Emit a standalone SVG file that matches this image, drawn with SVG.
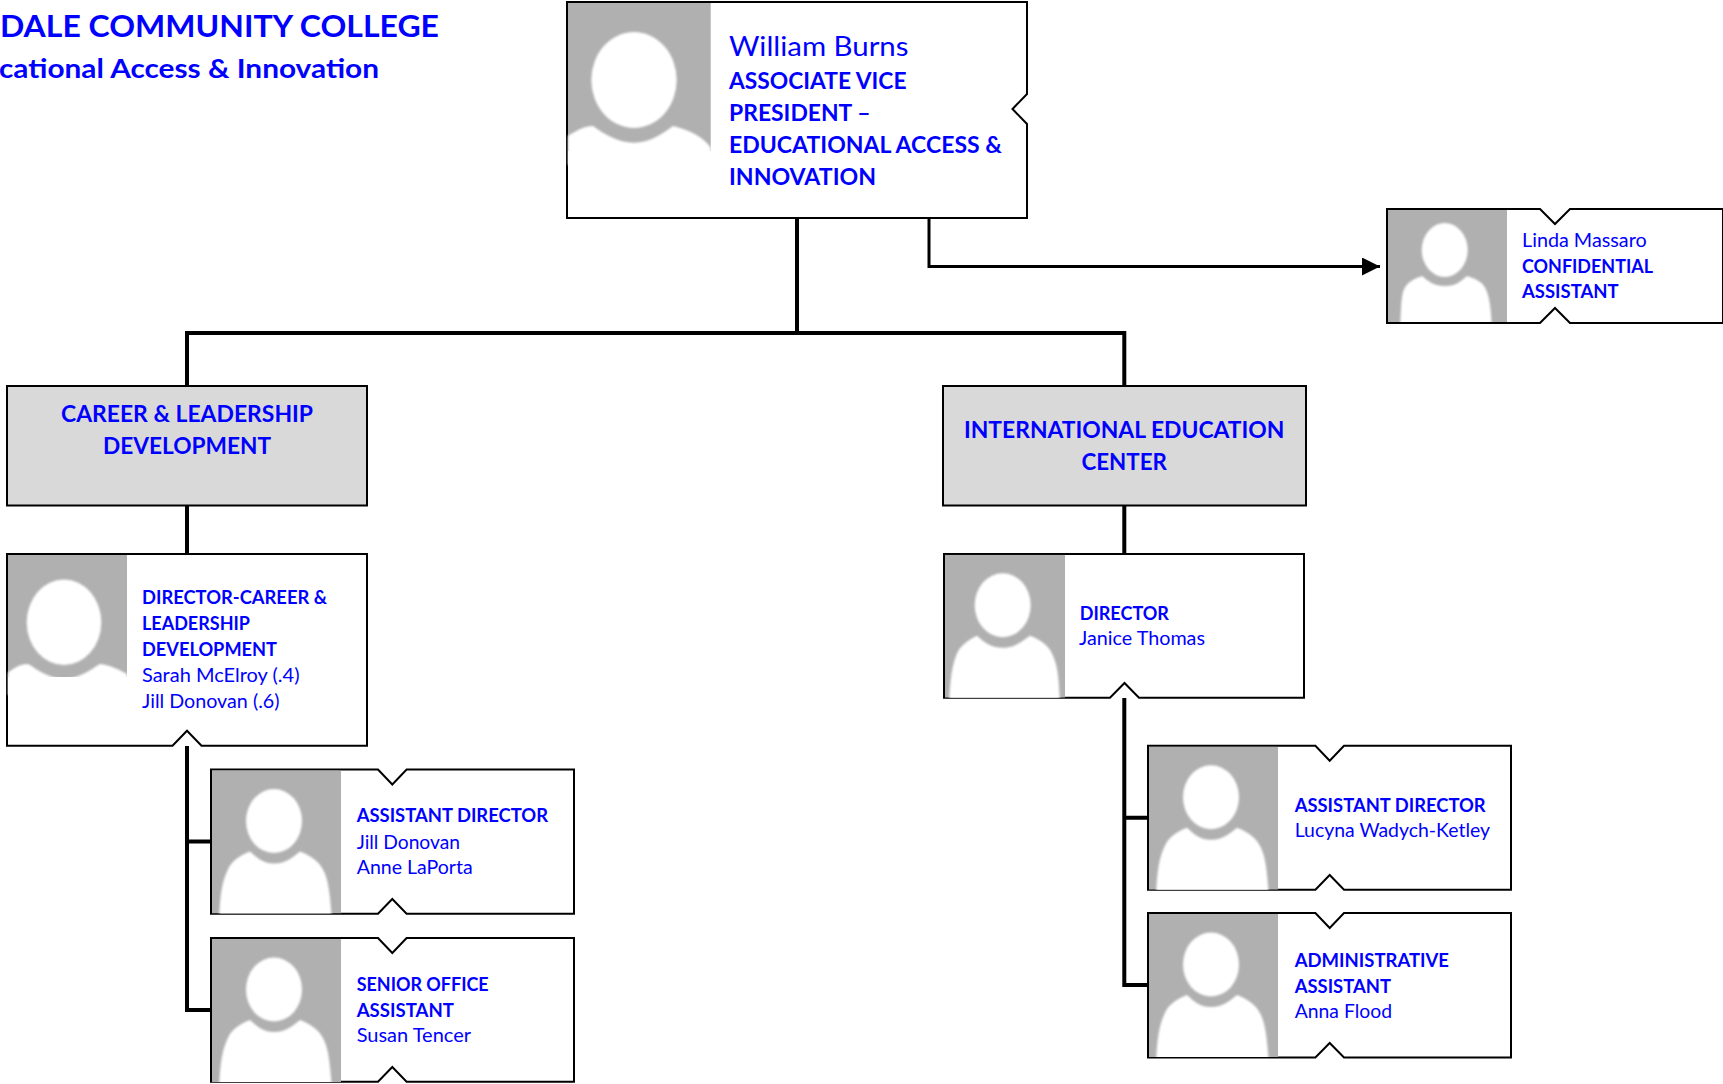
<svg xmlns="http://www.w3.org/2000/svg" width="1723" height="1084" viewBox="0 0 1723 1084">
<style>
text{font-family:Lato,"Liberation Sans",sans-serif;fill:#0000ff}
.b{font-weight:700}
.s{font-size:18.5px}
.box{fill:#fff;stroke:#000;stroke-width:2}
.hdr{fill:#d9d9d9;stroke:#000;stroke-width:2}
.ph{fill:#b0b0b0}
.w{fill:#fff}
.c{fill:none;stroke:#000;stroke-width:4}
.t{fill:none;stroke:#000;stroke-width:3}
</style>
<defs>
<filter id="soft" x="-5%" y="-5%" width="110%" height="110%"><feGaussianBlur stdDeviation="0.8"/></filter>
<marker id="arr" markerUnits="userSpaceOnUse" markerWidth="20" markerHeight="18" refX="18" refY="9" orient="auto"><path d="M0 0L18 9L0 18Z" fill="#000"/></marker>
<clipPath id="cA"><rect width="129" height="143"/></clipPath>
<clipPath id="cB"><rect width="119" height="112"/></clipPath>
<clipPath id="cC"><rect width="120" height="143"/></clipPath>
<g id="pA" clip-path="url(#cA)"><rect class="ph" width="129" height="143"/><g class="w" filter="url(#soft)"><ellipse cx="62" cy="50.500" rx="28" ry="32"/><path d="M7 150C8 125 10 112 15 101C19 90 28 85 38 81C45 87 50 93 62 93C74 93 80 87 88 81C98 85 107 90 112 101C117 112 118 125 120 150Z"/></g></g>
<g id="pB" clip-path="url(#cB)"><rect class="ph" width="119" height="112"/><g class="w" filter="url(#soft)"><ellipse cx="56.700" cy="40" rx="23" ry="27"/><path d="M12 120C13 100 13 90 15 82C18 72 26 69 34 66C40 71 46 76 57 76C68 76 73 71 79 66C88 69 96 72 99 82C102 90 103 100 104 120Z"/></g></g>
<g id="pC" clip-path="url(#cC)"><rect class="ph" width="120" height="143"/><g class="w" filter="url(#soft)"><ellipse cx="57.700" cy="50.500" rx="28" ry="32"/><path d="M4 150C5 125 7 112 11 101C15 90 24 85 32 81C39 87 45 93 58 93C70 93 76 87 85 81C95 85 104 90 108 101C113 112 114 125 115 150Z"/></g></g>
</defs>
<rect width="1723" height="1084" fill="#fff"/>

<g id="connectors">
<path class="c" d="M797 218V333M187 386V333H1124.300V386"/>
<path class="c" d="M187 505V555M1124.300 505V555"/>
<path class="c" d="M187 746V1010H212M187 841.500H212"/>
<path class="c" d="M1124.300 698V985H1149M1124.300 817.700H1149"/>
<path class="t" d="M929 218V266.500H1380" marker-end="url(#arr)"/>
</g>

<g id="title">
<text class="b" x="0" y="37" font-size="31" textLength="439" lengthAdjust="spacingAndGlyphs">DALE COMMUNITY COLLEGE</text>
<text class="b" x="-1" y="77.500" font-size="27" textLength="380" lengthAdjust="spacingAndGlyphs">cational Access &amp; Innovation</text>
</g>

<g id="node-burns">
<path class="box" d="M567 2H1027V94L1012.500 109L1027 124V218H567Z"/>
<g><rect class="ph" x="568" y="3" width="142.700" height="148"/>
<g class="w" filter="url(#soft)"><ellipse cx="634" cy="80" rx="42.700" ry="48"/><path d="M568 136C577 130 585 126 593 126C604 134 618 142.700 634 142.700C650 142.700 662 134 673 126C690 130 705 138 710.700 148V165H568Z"/></g></g>
<text x="729" y="55.700" font-size="27" textLength="179.500" lengthAdjust="spacingAndGlyphs">William Burns</text>
<g class="b" font-size="22.500">
<text x="729" y="88.800" textLength="177.500" lengthAdjust="spacingAndGlyphs">ASSOCIATE VICE</text>
<text x="729" y="120.700" textLength="141.500" lengthAdjust="spacingAndGlyphs">PRESIDENT –</text>
<text x="729" y="152.700" textLength="273" lengthAdjust="spacingAndGlyphs">EDUCATIONAL ACCESS &amp;</text>
<text x="729" y="184.700" textLength="147" lengthAdjust="spacingAndGlyphs">INNOVATION</text>
</g>
</g>

<g id="node-massaro">
<path class="box" d="M1387 209H1540L1555 224L1570 209H1723V323H1570L1555 308L1540 323H1387Z"/>
<use href="#pB" x="1388" y="210"/>
<text class="s" x="1522" y="247.300" textLength="124.700" lengthAdjust="spacingAndGlyphs">Linda Massaro</text>
<text class="s b" x="1522" y="272.700" textLength="131" lengthAdjust="spacingAndGlyphs">CONFIDENTIAL</text>
<text class="s b" x="1522" y="297.700" textLength="96.700" lengthAdjust="spacingAndGlyphs">ASSISTANT</text>
</g>

<g id="node-career">
<rect class="hdr" x="7" y="386" width="360" height="119.500"/>
<g class="b" font-size="23" text-anchor="middle">
<text x="187" y="421.700" textLength="252" lengthAdjust="spacingAndGlyphs">CAREER &amp; LEADERSHIP</text>
<text x="187" y="453.700" textLength="168" lengthAdjust="spacingAndGlyphs">DEVELOPMENT</text>
</g>
</g>

<g id="node-intl">
<rect class="hdr" x="943" y="386" width="363" height="119.500"/>
<g class="b" font-size="23" text-anchor="middle">
<text x="1124.200" y="437.700" textLength="320.500" lengthAdjust="spacingAndGlyphs">INTERNATIONAL EDUCATION</text>
<text x="1124.200" y="469.700" textLength="85.500" lengthAdjust="spacingAndGlyphs">CENTER</text>
</g>
</g>

<g id="node-dir-career">
<path class="box" d="M7 554H367V745.700H201.500L187 730.700L172.500 745.700H7Z"/>
<g><rect class="ph" x="8" y="555" width="119" height="122"/>
<g class="w" filter="url(#soft)"><ellipse cx="64" cy="622.300" rx="37.300" ry="42.700"/><path d="M8 672.700C14 668 20 664 28 664C38 670 50 679 64 679C78 679 90 670 100 664C110 665 120 670 127 674V695H8Z"/></g></g>
<g class="s">
<text class="b" x="142" y="604.300" textLength="185" lengthAdjust="spacingAndGlyphs">DIRECTOR-CAREER &amp;</text>
<text class="b" x="142" y="630.300" textLength="108" lengthAdjust="spacingAndGlyphs">LEADERSHIP</text>
<text class="b" x="142" y="656.300" textLength="135" lengthAdjust="spacingAndGlyphs">DEVELOPMENT</text>
<text x="142" y="681.500" textLength="157.500" lengthAdjust="spacingAndGlyphs">Sarah McElroy (.4)</text>
<text x="142" y="707.500" textLength="137.500" lengthAdjust="spacingAndGlyphs">Jill Donovan (.6)</text>
</g>
</g>

<g id="node-ad-career">
<path class="box" d="M211 769.500H378L392.300 784.500L406.600 769.500H574V913.800H406.600L392.300 899L378 913.800H211Z"/>
<use href="#pA" x="212" y="770.500"/>
<g class="s">
<text class="b" x="356.700" y="822.300" textLength="191.300" lengthAdjust="spacingAndGlyphs">ASSISTANT DIRECTOR</text>
<text x="356.700" y="848.500" textLength="103.300" lengthAdjust="spacingAndGlyphs">Jill Donovan</text>
<text x="356.700" y="873.700" textLength="116" lengthAdjust="spacingAndGlyphs">Anne LaPorta</text>
</g>
</g>

<g id="node-senior">
<path class="box" d="M211 938H378L392.300 953L406.600 938H574V1081.700H406.600L392.300 1067L378 1081.700H211Z"/>
<use href="#pA" x="212" y="939"/>
<g class="s">
<text class="b" x="356.700" y="990.700" textLength="132" lengthAdjust="spacingAndGlyphs">SENIOR OFFICE</text>
<text class="b" x="356.700" y="1016.700" textLength="97.300" lengthAdjust="spacingAndGlyphs">ASSISTANT</text>
<text x="356.700" y="1042" textLength="114.300" lengthAdjust="spacingAndGlyphs">Susan Tencer</text>
</g>
</g>

<g id="node-dir-intl">
<path class="box" d="M944 554H1304V697.700H1139L1124.500 683L1110 697.700H944Z"/>
<use href="#pC" x="945" y="554.700"/>
<g class="s">
<text class="b" x="1079.700" y="619.700" textLength="89.300" lengthAdjust="spacingAndGlyphs">DIRECTOR</text>
<text x="1079" y="644.700" textLength="126" lengthAdjust="spacingAndGlyphs">Janice Thomas</text>
</g>
</g>

<g id="node-ad-intl">
<path class="box" d="M1148 745.700H1315.400L1329.700 760.700L1344 745.700H1511V889.700H1344L1329.700 875L1315.400 889.700H1148Z"/>
<use href="#pA" x="1149" y="746.700"/>
<g class="s">
<text class="b" x="1294.700" y="811.700" textLength="191" lengthAdjust="spacingAndGlyphs">ASSISTANT DIRECTOR</text>
<text x="1294.700" y="836.700" textLength="195.300" lengthAdjust="spacingAndGlyphs">Lucyna Wadych-Ketley</text>
</g>
</g>

<g id="node-admin">
<path class="box" d="M1148 913H1315.400L1329.700 928L1344 913H1511V1057.500H1344L1329.700 1043L1315.400 1057.500H1148Z"/>
<use href="#pA" x="1149" y="914"/>
<g class="s">
<text class="b" x="1294.700" y="966.500" textLength="154.300" lengthAdjust="spacingAndGlyphs">ADMINISTRATIVE</text>
<text class="b" x="1294.700" y="992.500" textLength="96.300" lengthAdjust="spacingAndGlyphs">ASSISTANT</text>
<text x="1294.700" y="1017.500" textLength="97.300" lengthAdjust="spacingAndGlyphs">Anna Flood</text>
</g>
</g>
</svg>
